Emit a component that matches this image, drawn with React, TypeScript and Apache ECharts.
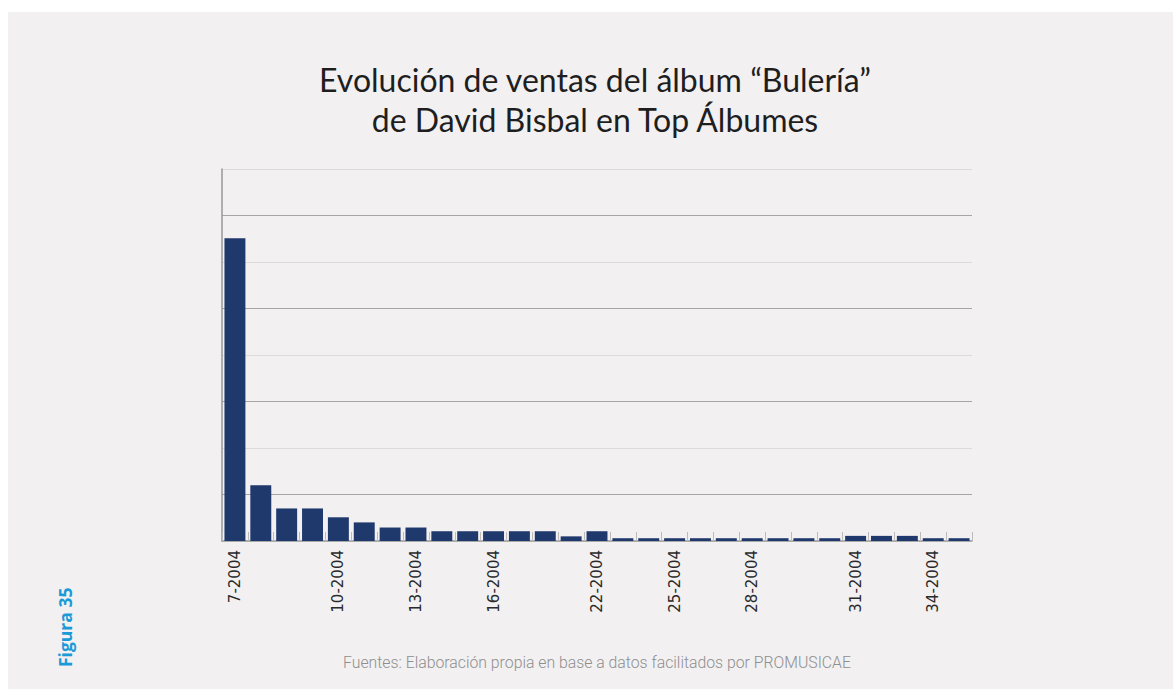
import React, { useEffect, useRef } from "react";
import * as echarts from "echarts";

const titleText = "Evolución de ventas del álbum “Bulería”\nde David Bisbal en Top Álbumes";
const sourceText = "Fuentes: Elaboración propia en base a datos facilitados por PROMUSICAE";
const figureText = "Figura 35";

// Week labels as visible in the reference (unlabelled weeks left blank)
const weekLabels = [
  "7-2004", "", "", "", "10-2004", "", "", "13-2004", "", "", "16-2004", "", "", "", "22-2004",
  "", "", "25-2004", "", "", "28-2004", "", "", "", "31-2004", "", "", "34-2004", "",
];

const salesValues = [
  65.1, 12.0, 7.0, 7.0, 5.1, 4.0, 2.9, 2.9, 2.1, 2.1, 2.1, 2.1, 2.1, 1.0, 2.1,
  0.6, 0.6, 0.6, 0.6, 0.6, 0.6, 0.6, 0.6, 0.6, 1.1, 1.1, 1.1, 0.6, 0.6,
];

const yMax = 80;
const yInterval = 10;

export default function App() {
  const ref = useRef<HTMLDivElement>(null);
  useEffect(() => {
    if (!ref.current) return;
    const chart = echarts.init(ref.current, null, { renderer: "svg" });
    chart.setOption({
      animation: false,
      backgroundColor: "#f2f0f1",
      title: {
        text: titleText,
        left: 582,
        top: 42,
        textAlign: "center",
        textStyle: {
          fontFamily: "Lato",
          fontWeight: "normal",
          fontSize: 32,
          lineHeight: 40,
          color: "#1e1e1e",
        },
      },
      graphic: [
        {
          type: "text",
          left: 335,
          top: 642,
          style: {
            text: sourceText,
            fontFamily: "Roboto",
            fontWeight: 300,
            fontSize: 15.8,
            fill: "#8f8f8f",
          },
        },
        {
          type: "text",
          x: 48,
          y: 655,
          rotation: Math.PI / 2,
          style: {
            text: figureText,
            fontFamily: "Open Sans",
            fontWeight: "bold",
            fontSize: 17.5,
            fill: "#1a9ad6",
          },
        },
      ],
      grid: { left: 214, right: 201, top: 157, bottom: 148, containLabel: false },
      xAxis: {
        type: "category",
        data: weekLabels,
        boundaryGap: true,
        axisLine: { lineStyle: { color: "#999", width: 1.5 } },
        axisTick: { show: true, inside: true, length: 9, interval: 0, lineStyle: { color: "#bbb" } },
        axisLabel: {
          interval: 0,
          rotate: 90,
          margin: 9,
          fontFamily: "DejaVu Sans",
          fontSize: 15,
          color: "#2a2a2a",
        },
      },
      yAxis: {
        type: "value",
        min: 0,
        max: yMax,
        interval: yInterval,
        axisLine: { show: true, lineStyle: { color: "#999", width: 1.5 } },
        axisTick: { show: false },
        axisLabel: { show: false },
        splitLine: { show: true, lineStyle: { color: ["#dcdadb", "#a5a5a5"], width: 1.2 } },
      },
      series: [
        {
          type: "bar",
          data: salesValues,
          barCategoryGap: "19%",
          itemStyle: { color: "#1f396d" },
        },
      ],
    });
    return () => chart.dispose();
  }, []);
  return (
    <div
      style={{ position: "fixed", left: 8, top: 12, width: 1165, height: 677, background: "#f2f0f1" }}
    >
      <div ref={ref} style={{ width: 1165, height: 677 }} />
    </div>
  );
}
